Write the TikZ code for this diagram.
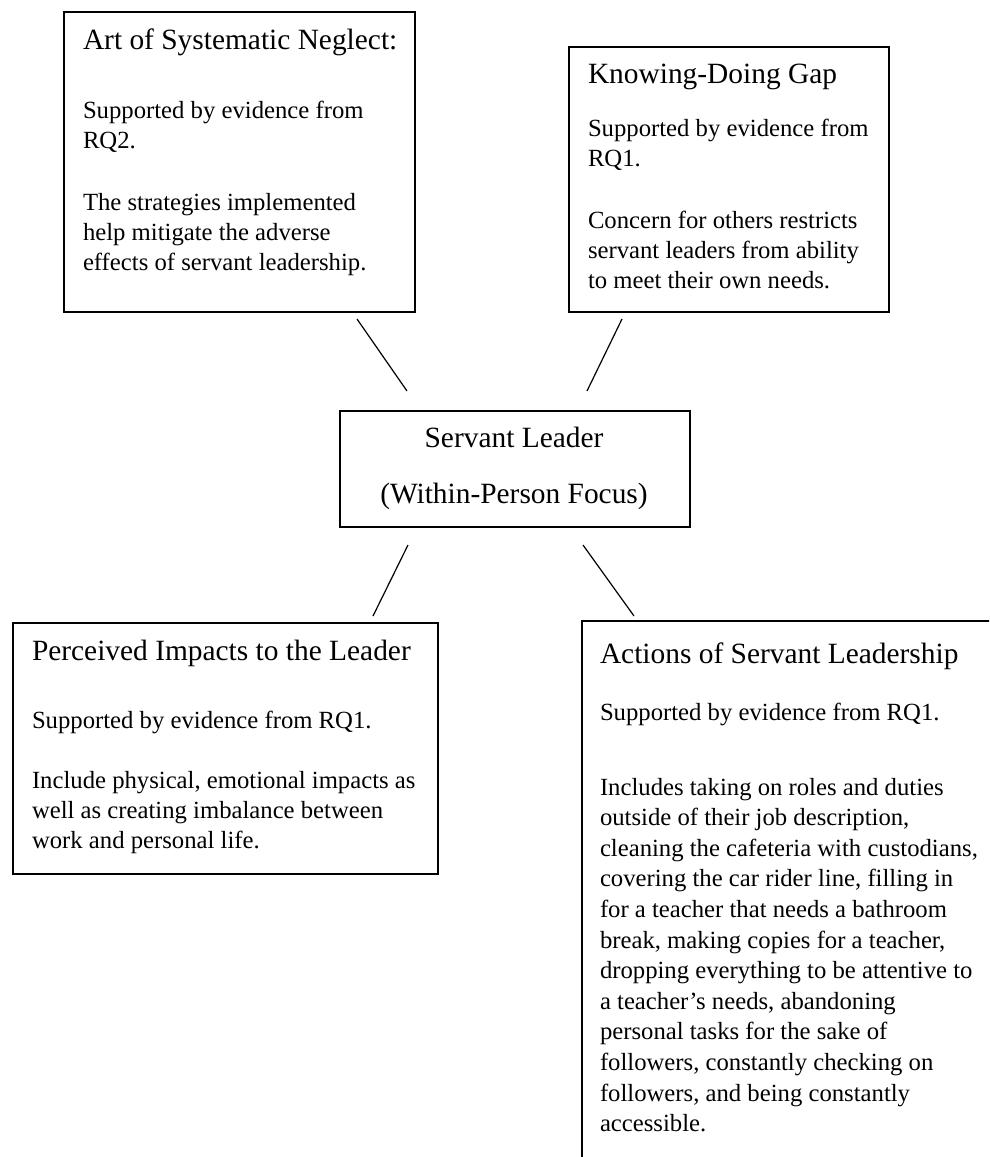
\documentclass[tikz,border=0pt]{standalone}
\usepackage{fontspec}
\setmainfont{Liberation Serif}
\newcommand{\mytitlefont}{\fontsize{29.4}{35}\selectfont}
\newcommand{\mybodyfont}{\fontsize{24.7}{30}\selectfont}
\tikzset{
  frame/.style={draw, line width=1.6pt, inner sep=0pt, anchor=north west},
  txt/.style={anchor=text, inner sep=0pt},
  ctxt/.style={anchor=base, inner sep=0pt, font=\mytitlefont},
  link/.style={line width=1.2pt},
}
\begin{document}
\begin{tikzpicture}[x=1pt,y=-1pt]
\useasboundingbox (0,0) rectangle (989,1157);
\clip (0,0) rectangle (989,1157);

% Art of Systematic Neglect
\node[frame, minimum width=351pt, minimum height=300pt] (neglect) at (63,11) {};
\node[txt] (neglectT) at (83,49) {\mytitlefont Art of Systematic Neglect:};
\node[txt] (neglectA) at (83,118) {\parbox[t]{320pt}{\raggedright\mybodyfont Supported by evidence from\\RQ2.}};
\node[txt] (neglectB) at (83,210) {\parbox[t]{320pt}{\raggedright\mybodyfont The strategies implemented\\help mitigate the adverse\\effects of servant leadership.}};

% Knowing-Doing Gap
\node[frame, minimum width=320pt, minimum height=265pt] (gap) at (568,46) {};
\node[txt] (gapT) at (588,83) {\mytitlefont Knowing-Doing Gap};
\node[txt] (gapA) at (588,136) {\parbox[t]{300pt}{\raggedright\mybodyfont Supported by evidence from\\RQ1.}};
\node[txt] (gapB) at (588,228) {\parbox[t]{300pt}{\raggedright\mybodyfont Concern for others restricts\\servant leaders from ability\\to meet their own needs.}};

% Servant Leader
\node[frame, minimum width=350pt, minimum height=116pt] (leader) at (339,410) {};
\node[ctxt] (leaderT) at (514,447) {Servant Leader};
\node[ctxt] (leaderF) at (514,503) {(Within-Person Focus)};

% Perceived Impacts
\node[frame, minimum width=425pt, minimum height=251pt] (impacts) at (12,622) {};
\node[txt] (impactsT) at (32,660) {\mytitlefont Perceived Impacts to the Leader};
\node[txt] (impactsA) at (32,728) {\parbox[t]{400pt}{\raggedright\mybodyfont Supported by evidence from RQ1.}};
\node[txt] (impactsB) at (32,788) {\parbox[t]{400pt}{\raggedright\mybodyfont Include physical, emotional impacts as\\well as creating imbalance between\\work and personal life.}};

% Actions of Servant Leadership
\node[frame, minimum width=450pt, minimum height=600pt] (actions) at (581,620) {};
\node[txt] (actionsT) at (600,663) {\mytitlefont Actions of Servant Leadership};
\node[txt] (actionsA) at (600,720) {\parbox[t]{400pt}{\raggedright\mybodyfont Supported by evidence from RQ1.}};
\node[txt] (actionsB) at (600,795) {\parbox[t]{420pt}{\raggedright\fontsize{24.7}{30.6}\selectfont Includes taking on roles and duties\\outside of their job description,\\cleaning the cafeteria with custodians,\\covering the car rider line, filling in\\for a teacher that needs a bathroom\\break, making copies for a teacher,\\dropping everything to be attentive to\\a teacher’s needs, abandoning\\personal tasks for the sake of\\followers, constantly checking on\\followers, and being constantly\\accessible.}};

% connectors (free-standing, not touching the boxes)
\coordinate (c1a) at (357,319); \coordinate (c1b) at (407,391);
\coordinate (c2a) at (622,319); \coordinate (c2b) at (587,391);
\coordinate (c3a) at (408,545); \coordinate (c3b) at (373,616);
\coordinate (c4a) at (583,545); \coordinate (c4b) at (634,616);
\draw[link] (c1a) -- (c1b);
\draw[link] (c2a) -- (c2b);
\draw[link] (c3a) -- (c3b);
\draw[link] (c4a) -- (c4b);
\end{tikzpicture}
\end{document}
